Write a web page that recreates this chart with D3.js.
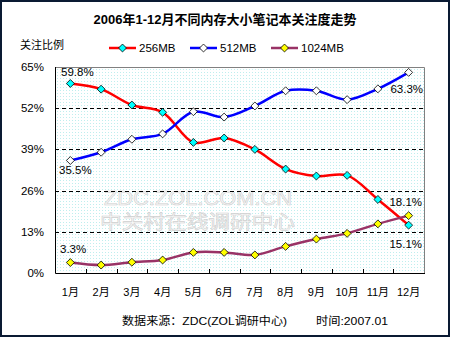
<!DOCTYPE html>
<html><head><meta charset="utf-8">
<script src="https://cdn.jsdelivr.net/npm/d3@7"></script>
<style>body{margin:0;background:#fff}svg{display:block}text{font-family:"Liberation Sans",Arial,"Noto Sans CJK SC",sans-serif}</style>
</head><body><div id="c"></div>
<script>
const months = ["1月","2月","3月","4月","5月","6月","7月","8月","9月","10月","11月","12月"];
const s256 = [59.8,58.0,53.0,50.7,41.2,42.6,39.0,32.8,30.6,30.8,23.2,15.1];
const s512 = [35.5,38.1,42.2,43.9,50.9,49.2,52.7,57.5,57.5,54.7,58.1,63.3];
const s1024 = [3.3,2.5,3.4,4.1,6.5,6.5,5.7,8.4,10.7,12.5,15.5,18.1];
const yTicks = [0,13,26,39,52,65];
const seriesNames = ["256MB","512MB","1024MB"];
const lineColors = ["#ff0000","#0000ff","#993366"];
const markerColors = ["#00ffff","#ffffff","#ffff00"];

const W=450,H=337;
const svg=d3.select("#c").append("svg").attr("width",W).attr("height",H);
svg.append("rect").attr("x",1).attr("y",1).attr("width",W-2).attr("height",H-2).attr("fill","#fff").attr("stroke","#0a1a33").attr("stroke-width",2);

const L=55,R=424,T=67,B=273;
const x=d3.scaleBand().domain(months).range([L,R]);
const y=d3.scaleLinear().domain([0,65]).range([B,T]);
const cx=m=>x(m)+x.bandwidth()/2;

// background pattern
const defs=svg.append("defs");
const pat=defs.append("pattern").attr("id","dots").attr("width",3).attr("height",3).attr("patternUnits","userSpaceOnUse");
pat.append("rect").attr("width",3).attr("height",3).attr("fill","#ffffff");
pat.append("rect").attr("width",1).attr("height",1).attr("fill","#bfeeee");
svg.append("rect").attr("x",L).attr("y",T).attr("width",R-L).attr("height",B-T).attr("fill","url(#dots)");

// watermark
svg.append("text").attr("x",104).attr("y",205).attr("textLength",188).attr("lengthAdjust","spacingAndGlyphs").attr("font-size",20).attr("fill","#f8f8f8").attr("stroke","#d0d0d0").attr("stroke-width",0.6).text("ZDC.ZOL.COM.CN");
svg.append("text").attr("x",100).attr("y",229).attr("textLength",195).attr("lengthAdjust","spacingAndGlyphs").attr("font-size",19).attr("fill","#f8f8f8").attr("stroke","#d0d0d0").attr("stroke-width",0.6).attr("style","font-family:'Noto Sans CJK SC'").text("中关村在线调研中心");

// grid
svg.append("g").selectAll("line").data(yTicks.filter(d=>d>0&&d<65)).join("line")
 .attr("x1",L).attr("x2",R).attr("y1",d=>Math.round(y(d))+0.5).attr("y2",d=>Math.round(y(d))+0.5)
 .attr("stroke","#000").attr("stroke-dasharray","4,3");

// frame
svg.append("path").attr("d",`M${L+0.5},${T+0.5}H${R+0.5}V${B+0.5}`).attr("fill","none").attr("stroke","#808080");
svg.append("path").attr("d",`M${L+0.5},${T}V${B+0.5}H${R+1}`).attr("fill","none").attr("stroke","#000");

// x ticks
svg.append("g").selectAll("line").data(months.slice(1)).join("line")
 .attr("x1",d=>Math.round(x(d))+0.5).attr("x2",d=>Math.round(x(d))+0.5).attr("y1",B).attr("y2",B-4).attr("stroke","#000");

// y labels
svg.append("g").selectAll("text").data(yTicks).join("text")
 .attr("x",44).attr("y",d=>y(d)+4).attr("text-anchor","end").attr("font-size",11.5).attr("fill","#000").text(d=>d+"%");
// x labels
svg.append("g").selectAll("text").data(months).join("text")
 .attr("x",d=>cx(d)).attr("y",296).attr("text-anchor","middle").attr("font-size",11).attr("fill","#000").text(d=>d);

// lines
const line=d3.line().x((d,i)=>cx(months[i])).y(d=>y(d)).curve(d3.curveCatmullRom.alpha(0.5));
const all=[s256,s512,s1024];
all.forEach((s,k)=>{
  svg.append("path").datum(s).attr("d",line).attr("fill","none").attr("stroke",lineColors[k]).attr("stroke-width",2.5);
});
const diamond=d3.symbol().type(d3.symbolDiamond2).size(40);
all.forEach((s,k)=>{
  svg.append("g").selectAll("path").data(s).join("path")
   .attr("transform",(d,i)=>`translate(${cx(months[i])},${y(d)})`)
   .attr("d",diamond).attr("fill",markerColors[k]).attr("stroke","#000").attr("stroke-width",0.8);
});

// data labels
const lab=(t,xx,yy,a)=>svg.append("text").attr("x",xx).attr("y",yy).attr("text-anchor",a||"start").attr("font-size",11.5).attr("fill","#000").text(t);
lab(s256[0].toFixed(1)+"%",61,y(s256[0])-7);
lab(s512[0].toFixed(1)+"%",59,y(s512[0])+14);
lab(s1024[0].toFixed(1)+"%",60,y(s1024[0])-10);
lab(s512[11].toFixed(1)+"%",423,y(s512[11])+21,"end");
lab(s1024[11].toFixed(1)+"%",422,y(s1024[11])-10,"end");
lab(s256[11].toFixed(1)+"%",422,y(s256[11])+23,"end");

// title
svg.append("text").attr("x",225).attr("y",24).attr("text-anchor","middle").attr("font-size",13).attr("font-weight","bold").attr("fill","#000").text("2006年1-12月不同内存大小笔记本关注度走势");
svg.append("text").attr("x",20).attr("y",49).attr("font-size",11).attr("fill","#000").text("关注比例");

// legend
const lx=[109,190,271];
seriesNames.forEach((n,k)=>{
  const g=svg.append("g");
  g.append("line").attr("x1",lx[k]).attr("x2",lx[k]+27).attr("y1",48).attr("y2",48).attr("stroke",lineColors[k]).attr("stroke-width",2.5);
  g.append("path").attr("transform",`translate(${lx[k]+13.5},48)`).attr("d",diamond).attr("fill",markerColors[k]).attr("stroke","#000").attr("stroke-width",0.8);
  g.append("text").attr("x",lx[k]+30).attr("y",52).attr("font-size",11.5).attr("fill","#000").text(n);
});

// footer
svg.append("text").attr("x",122).attr("y",325).attr("font-size",11).attr("textLength",165).attr("lengthAdjust","spacingAndGlyphs").attr("fill","#000").text("数据来源：ZDC(ZOL调研中心)");
svg.append("text").attr("x",316).attr("y",325).attr("font-size",11).attr("textLength",72).attr("lengthAdjust","spacingAndGlyphs").attr("fill","#000").text("时间:2007.01");
</script></body></html>
